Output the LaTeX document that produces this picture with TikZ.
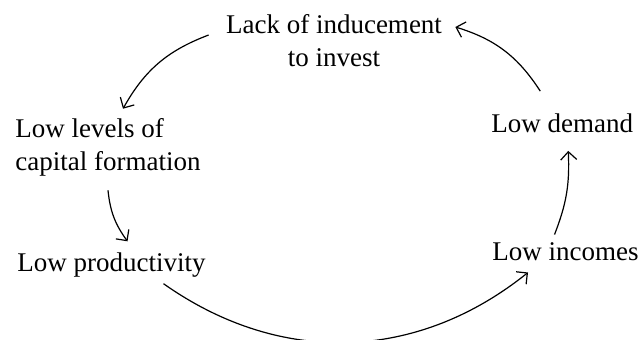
\documentclass[tikz,border=0pt]{standalone}
\usepackage{fontspec}
\setmainfont{Liberation Serif}
\usepackage{tikz}
\usetikzlibrary{arrows.meta}

\begin{document}
\begin{tikzpicture}[x=0.5pt,y=0.5pt,font=\fontsize{13.5}{16.5}\selectfont]
        \useasboundingbox (0,0) rectangle (642,339);
        \coordinate (T) at (334,298);
        \coordinate (W) at (15,192);
        \coordinate (SW) at (17,74);
        \coordinate (E) at (491,216);
        \coordinate (SE) at (492,87);
        \node[align=center,inner sep=0] (lack) at (T) {Lack of inducement\\to invest};
        \node[anchor=west,align=left,inner sep=0] (levels) at (W) {Low levels of\\capital formation};
        \node[anchor=west,inner sep=0] (prod) at (SW) {Low productivity};
        \node[anchor=west,inner sep=0] (demand) at (E) {Low demand};
        \node[anchor=west,inner sep=0] (incomes) at (SE) {Low incomes};
        \draw[-{Straight Barb[length=4pt]},semithick] ([shift={(-17,6)}]lack.west) to[bend right=20] ([shift={(15,9)}]levels.north);
        \draw[-{Straight Barb[length=4pt]},semithick] ([shift={(0,-14)}]levels.south) to[bend right=15] ([shift={(16,11)}]prod.north);
        \draw[-{Straight Barb[length=4pt]},semithick] ([shift={(52,-6)}]prod.south) to[bend right=37] ([shift={(36,-11)}]incomes.south west);
        \draw[-{Straight Barb[length=4pt]},semithick] ([shift={(-11,8)}]incomes.north) to[bend right=12] ([shift={(6,-18)}]demand.south);
        \draw[-{Straight Barb[length=4pt]},semithick] ([shift={(-22,22)}]demand.north) to[bend right=20] ([shift={(13,14)}]lack.east);
    \end{tikzpicture}
\end{document}
